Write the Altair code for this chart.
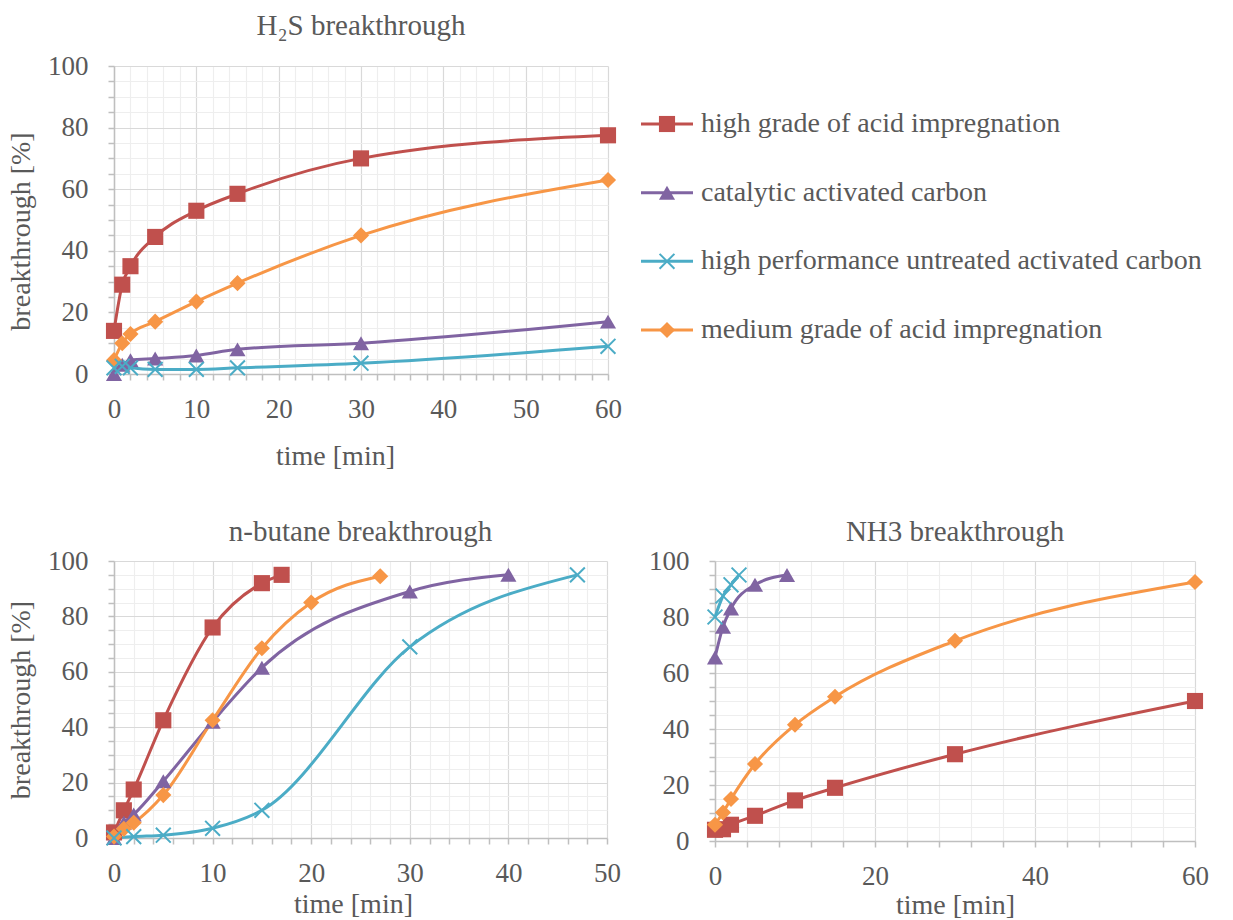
import altair as alt
import pandas as pd

SERIES = ["high grade of acid impregnation", "catalytic activated carbon",
          "high performance untreated activated carbon", "medium grade of acid impregnation"]
COLORS = ["#C0504D", "#8064A2", "#4BACC6", "#F79646"]
SHAPES = ["square", "triangle-up", "M-1,-1L1,1M-1,1L1,-1", "diamond"]

# H2S breakthrough
h2s_time = [0, 1, 2, 5, 10, 15, 30, 60]
h2s_high = [14, 29, 35, 44.5, 53, 58.5, 70, 77.5]
h2s_cat = [0, 3, 4.5, 5, 6, 8, 10, 17]
h2s_untr = [2, 2.5, 2, 1.5, 1.5, 2, 3.5, 9]
h2s_med = [4.5, 10, 13, 17, 23.5, 29.5, 45, 63]

# n-butane breakthrough
but_high_t = [0, 1, 2, 5, 10, 15, 17]
but_high = [2, 10, 17.5, 42.5, 76, 92, 95]
but_cat_t = [0, 1, 2, 5, 10, 15, 30, 40]
but_cat = [0, 5.5, 8.5, 20.5, 42, 61.5, 89, 95]
but_untr_t = [0, 2, 5, 10, 15, 30, 47]
but_untr = [0, 0.5, 1, 3.5, 10, 69, 95]
but_med_t = [0, 1, 2, 5, 10, 15, 20, 27]
but_med = [0.5, 3.3, 5.5, 15.5, 42.5, 68.5, 85, 94.5]

# NH3 breakthrough
nh3_high_t = [0, 1, 2, 5, 10, 15, 30, 60]
nh3_high = [4, 4.2, 5.8, 9, 14.5, 19, 31, 50]
nh3_cat_t = [0, 1, 2, 5, 9]
nh3_cat = [65.5, 76.5, 83, 91.5, 95]
nh3_untr_t = [0, 1, 2, 3]
nh3_untr = [80, 87.5, 91.5, 95]
nh3_med_t = [0, 1, 2, 5, 10, 15, 30, 60]
nh3_med = [5.8, 10.2, 15, 27.5, 41.5, 51.5, 71.5, 92.5]

GRID_MAJOR = "#d9d9d9"
GRID_MINOR = "#eeeeee"
TEXT = "#595959"
FONT = "Liberation Serif, Times New Roman, Times, DejaVu Serif, serif"

MARK_DOMAIN = [SERIES[0], SERIES[1], SERIES[3]]
MARK_SHAPES = ["square", "triangle-up", "diamond"]
MARK_SIZES = [260, 260, 230]


def make_df(pairs):
    rows = []
    for name, ts, vs in pairs:
        for t, v in zip(ts, vs):
            rows.append({"series": name, "t": t, "v": v})
    return pd.DataFrame(rows)


def panel(df, xmax, xminor, xmajor, width, height, title, ytitle, title_offset, xtitle_pad,
          xtitle_x=None, ytitle_y=None):
    xvals = list(range(0, xmax + 1, xminor))
    yvals = list(range(0, 101, 5))
    xaxis = dict(values=xvals, title="time [min]", titlePadding=xtitle_pad,
                 labelExpr=f"datum.value % {xmajor} === 0 ? datum.label : ''",
                 labelOverlap=False, labelFlush=False, labelPadding=16,
                 gridColor={"condition": {"test": f"datum.value % {xmajor} === 0", "value": GRID_MAJOR}, "value": GRID_MINOR})
    if xtitle_x is not None:
        xaxis["titleX"] = xtitle_x
    x = alt.X("t:Q", scale=alt.Scale(domain=[0, xmax], nice=False, zero=True), axis=alt.Axis(**xaxis))
    yaxis = dict(values=yvals, labelExpr="datum.value % 20 === 0 ? datum.label : ''",
                 labelOverlap=False, labelFlush=False, labelPadding=20,
                 gridColor={"condition": {"test": "datum.value % 20 === 0", "value": GRID_MAJOR}, "value": GRID_MINOR})
    yaxis["title"] = ytitle if ytitle else None
    if ytitle_y is not None:
        yaxis["titleY"] = ytitle_y
    y = alt.Y("v:Q", scale=alt.Scale(domain=[0, 100], nice=False), axis=alt.Axis(**yaxis))
    color = alt.Color("series:N", scale=alt.Scale(domain=SERIES, range=COLORS), legend=None)
    base = alt.Chart(df)
    lines = base.mark_line(strokeWidth=3, interpolate="monotone").encode(x=x, y=y, color=color)
    filled = base.transform_filter(alt.datum.series != SERIES[2]).mark_point(filled=True, opacity=1).encode(
        x=x, y=y, color=color,
        shape=alt.Shape("series:N", scale=alt.Scale(domain=MARK_DOMAIN, range=MARK_SHAPES), legend=None),
        size=alt.Size("series:N", scale=alt.Scale(domain=MARK_DOMAIN, range=MARK_SIZES), legend=None))
    crosses = base.transform_filter(alt.datum.series == SERIES[2]).mark_point(
        shape=SHAPES[2], filled=False, size=220, strokeWidth=2, opacity=1, color=COLORS[2]).encode(x=x, y=y)
    return alt.layer(lines, filled, crosses).properties(
        width=width, height=height,
        title=alt.TitleParams(title, offset=title_offset))


h2s_df = make_df([(SERIES[0], h2s_time, h2s_high), (SERIES[1], h2s_time, h2s_cat),
                  (SERIES[2], h2s_time, h2s_untr), (SERIES[3], h2s_time, h2s_med)])
but_df = make_df([(SERIES[0], but_high_t, but_high), (SERIES[1], but_cat_t, but_cat),
                  (SERIES[2], but_untr_t, but_untr), (SERIES[3], but_med_t, but_med)])
nh3_df = make_df([(SERIES[0], nh3_high_t, nh3_high), (SERIES[1], nh3_cat_t, nh3_cat),
                  (SERIES[2], nh3_untr_t, nh3_untr), (SERIES[3], nh3_med_t, nh3_med)])

top = panel(h2s_df, 60, 2, 10, 494, 308, "H\u2082S breakthrough", "breakthrough [%]", 11, 20,
            xtitle_x=221, ytitle_y=165)
bl = panel(but_df, 50, 2, 10, 493, 277, "n-butane breakthrough", "breakthrough [%]", 0, 4,
           xtitle_x=239)
br = panel(nh3_df, 60, 4, 20, 480, 280, "NH3 breakthrough", None, 0, 2)

# legend
leg_df = pd.DataFrame({"series": SERIES, "row": [0, 1, 2, 3]})
ly = alt.Y("row:Q", scale=alt.Scale(domain=[0, 3], range=[58, 264]), axis=None)
lcolor = alt.Color("series:N", scale=alt.Scale(domain=SERIES, range=COLORS), legend=None)
lbase = alt.Chart(leg_df)
lrule = lbase.mark_rule(strokeWidth=3).encode(x=alt.value(0), x2=alt.value(52), y=ly, color=lcolor)
lpts = lbase.transform_filter(alt.datum.series != SERIES[2]).mark_point(filled=True, opacity=1).encode(
    x=alt.value(26), y=ly, color=lcolor,
    shape=alt.Shape("series:N", scale=alt.Scale(domain=MARK_DOMAIN, range=MARK_SHAPES), legend=None),
    size=alt.Size("series:N", scale=alt.Scale(domain=MARK_DOMAIN, range=MARK_SIZES), legend=None))
lx = lbase.transform_filter(alt.datum.series == SERIES[2]).mark_point(
    shape=SHAPES[2], filled=False, size=220, strokeWidth=2, opacity=1, color=COLORS[2]).encode(
    x=alt.value(26), y=ly)
ltext = lbase.mark_text(align="left", baseline="middle", fontSize=28, font=FONT, color=TEXT).encode(
    x=alt.value(60), y=ly, text="series:N")
legend = alt.layer(lrule, lpts, lx, ltext).properties(width=545, height=308)

chart = alt.vconcat(
    alt.hconcat(top, legend, spacing=17),
    alt.hconcat(bl, br, spacing=27),
    spacing=48,
).configure(font=FONT).configure_view(strokeWidth=0).configure_axis(
    labelFont=FONT, titleFont=FONT, labelFontSize=27, titleFontSize=28,
    labelColor=TEXT, titleColor=TEXT, titleFontWeight="normal",
    domainColor="#bfbfbf", domainWidth=1.5, tickColor="#bfbfbf", tickWidth=1.5, tickSize=6,
    gridWidth=1.2,
).configure_axisY(titlePadding=12).configure_title(
    font=FONT, fontSize=29, color=TEXT, fontWeight="normal", anchor="middle"
).properties(padding={"left": 7, "top": 12, "right": 5, "bottom": 0})

chart.save("out.html", embed_options={"renderer": "svg", "actions": False})
